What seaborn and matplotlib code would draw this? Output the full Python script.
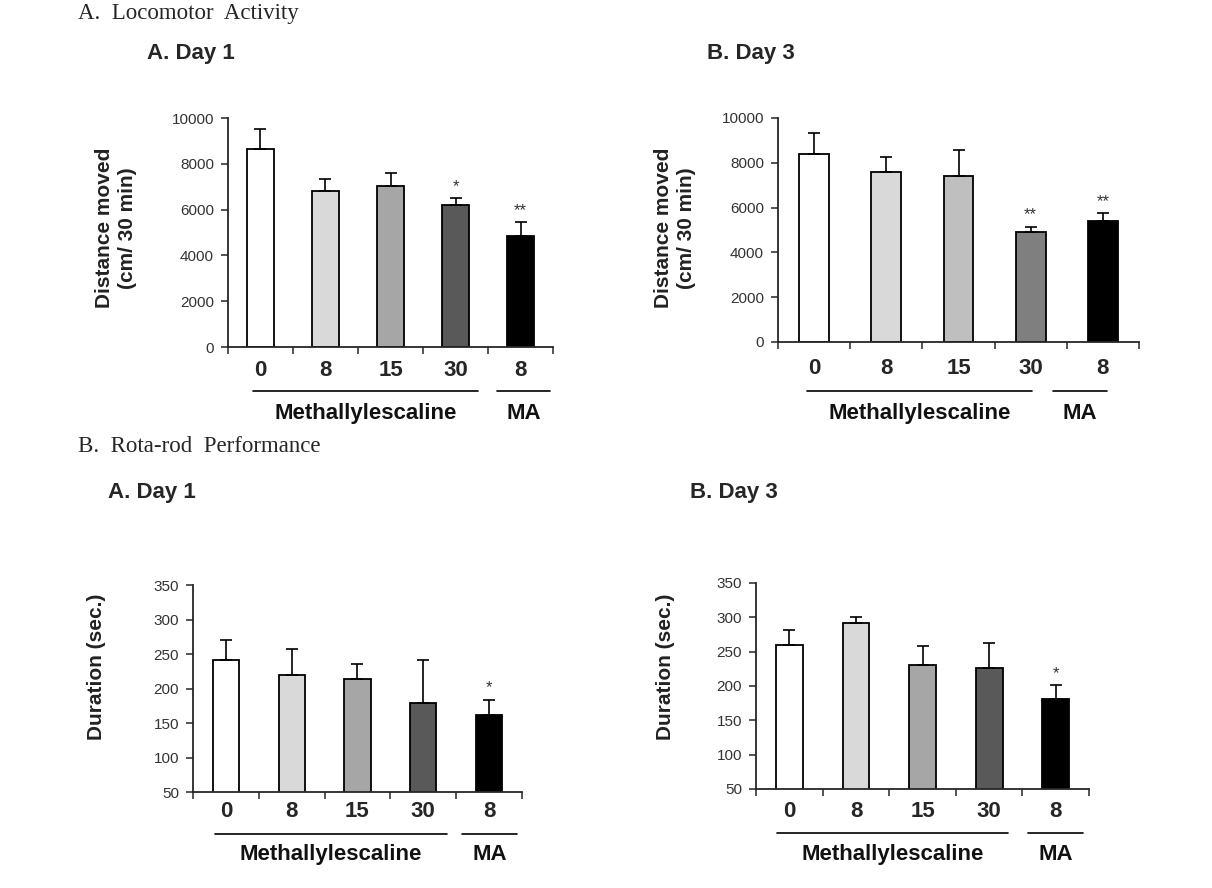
import numpy as np
import pandas as pd
import matplotlib
matplotlib.use("Agg")
import matplotlib.pyplot as plt
import matplotlib.transforms as mtransforms
import seaborn as sns

# doses (mg/kg) under each bar, and the drug groups
dose_labels = ["0", "8", "15", "30", "8"]
group_names = ["Methallylescaline", "MA"]

# locomotor activity, distance moved (cm / 30 min)
loco_day1_mean = [8650, 6820, 7040, 6220, 4830]
loco_day1_sem = [890, 510, 580, 280, 630]
loco_day1_sig = ["", "", "", "*", "**"]

loco_day3_mean = [8400, 7570, 7420, 4910, 5390]
loco_day3_sem = [910, 670, 1130, 240, 360]
loco_day3_sig = ["", "", "", "**", "**"]

# rota-rod, duration (sec.)
rota_day1_mean = [241, 219, 214, 179, 162]
rota_day1_sem = [30, 38, 22, 63, 22]
rota_day1_sig = ["", "", "", "", "*"]

rota_day3_mean = [260, 291, 231, 226, 181]
rota_day3_sem = [21, 10, 27, 37, 20]
rota_day3_sig = ["", "", "", "", "*"]

sns.set_style("ticks")
plt.rcParams["font.family"] = ["Liberation Sans", "DejaVu Sans"]

fig = plt.figure(figsize=(12.12, 8.88), dpi=100)

shades_a = ["white", "#d9d9d9", "#a6a6a6", "#595959", "black"]
shades_b = ["white", "#d9d9d9", "#bfbfbf", "#7f7f7f", "black"]

panels = [
    dict(rect=[0.1881, 0.6092, 0.2682, 0.2579], mean=loco_day1_mean, sem=loco_day1_sem,
         sig=loco_day1_sig, colors=shades_a, width=0.42, ylim=(0, 10000), step=2000,
         ylabel="Distance moved\n(cm/ 30 min)", ylab_xy=(-0.345, 0.52), pad=9,
         spans=[(-0.12, 3.35), (3.64, 4.45)], line_y=-0.192, text_y=-0.29),
    dict(rect=[0.6419, 0.6149, 0.2979, 0.2523], mean=loco_day3_mean, sem=loco_day3_sem,
         sig=loco_day3_sig, colors=shades_b, width=0.41, ylim=(0, 10000), step=2000,
         ylabel="Distance moved\n(cm/ 30 min)", ylab_xy=(-0.285, 0.51), pad=11.5,
         spans=[(-0.1, 3.02), (3.31, 4.06)], line_y=-0.219, text_y=-0.318),
    dict(rect=[0.1592, 0.1081, 0.2715, 0.2331], mean=rota_day1_mean, sem=rota_day1_sem,
         sig=rota_day1_sig, colors=shades_a, width=0.40, ylim=(50, 350), step=50,
         ylabel="Duration (sec.)", ylab_xy=(-0.292, 0.604), pad=6.5,
         spans=[(-0.17, 3.36), (3.59, 4.42)], line_y=-0.203, text_y=-0.30),
    dict(rect=[0.6238, 0.1115, 0.2748, 0.2320], mean=rota_day3_mean, sem=rota_day3_sem,
         sig=rota_day3_sig, colors=shades_a, width=0.40, ylim=(50, 350), step=50,
         ylabel="Duration (sec.)", ylab_xy=(-0.273, 0.592), pad=8.5,
         spans=[(-0.19, 3.28), (3.58, 4.41)], line_y=-0.214, text_y=-0.316),
]

for p in panels:
    ax = fig.add_axes(p["rect"])
    n = len(p["mean"])
    df = pd.DataFrame({"bar": [f"g{i}" for i in range(n)], "value": p["mean"]})
    sns.barplot(data=df, x="bar", y="value", hue="bar", palette=p["colors"],
                width=p["width"], edgecolor="black", linewidth=1.3,
                errorbar=None, legend=False, ax=ax)
    xs = np.arange(n)
    # one-sided (upper) error bars
    ax.errorbar(xs, p["mean"], yerr=[np.zeros(n), p["sem"]], fmt="none",
                ecolor="black", elinewidth=1.2, capsize=4.3, capthick=1.2, zorder=1)
    for i in range(n):
        if p["sig"][i]:
            ax.annotate(p["sig"][i], xy=(i, p["mean"][i] + p["sem"][i]), xytext=(0, 3),
                        textcoords="offset points", ha="center", va="bottom",
                        fontsize=12, color="#333333")

    ax.set_xlim(-0.5, n - 0.5)
    ax.set_ylim(*p["ylim"])
    ax.set_yticks(np.arange(p["ylim"][0], p["ylim"][1] + 1, p["step"]))
    ax.tick_params(axis="y", length=5, width=1.1, pad=5, labelsize=11,
                   labelcolor="#333333", direction="out")
    # ticks at bar boundaries, labels at bar centres
    ax.set_xticks(np.arange(-0.5, n, 1.0))
    ax.set_xticklabels([])
    ax.set_xticks(xs, minor=True)
    ax.set_xticklabels(dose_labels, minor=True, fontsize=16, fontweight="bold")
    ax.tick_params(axis="x", which="major", length=5, width=1.1, direction="out")
    ax.tick_params(axis="x", which="minor", length=0, pad=p["pad"])
    ax.set_xlabel("")
    ax.set_ylabel(p["ylabel"], fontsize=15, fontweight="bold", color="#222222",
                  linespacing=1.3, va="center")
    ax.yaxis.set_label_coords(*p["ylab_xy"])
    sns.despine(ax=ax)
    for s in ["left", "bottom"]:
        ax.spines[s].set_linewidth(1.3)

    trans = mtransforms.blended_transform_factory(ax.transData, ax.transAxes)
    for name, (x0, x1) in zip(group_names, p["spans"]):
        ax.plot([x0, x1], [p["line_y"], p["line_y"]], color="black", lw=1.2,
                transform=trans, clip_on=False)
        ax.text((x0 + x1) / 2, p["text_y"], name, transform=trans, ha="center",
                va="center", fontsize=16, fontweight="bold", color="#111111")

# section headings and panel titles
serif = ["Liberation Serif", "DejaVu Serif"]
fig.text(78 / 1212, 1 - 14 / 888, "A.  Locomotor  Activity", family=serif,
         fontsize=16.5, va="center", ha="left")
fig.text(78 / 1212, 1 - 446 / 888, "B.  Rota-rod  Performance", family=serif,
         fontsize=16.5, va="center", ha="left")
fig.text(147 / 1212, 1 - 53 / 888, "A. Day 1", fontsize=16, fontweight="bold",
         va="center", ha="left")
fig.text(707 / 1212, 1 - 54 / 888, "B. Day 3", fontsize=16, fontweight="bold",
         va="center", ha="left")
fig.text(108 / 1212, 1 - 492 / 888, "A. Day 1", fontsize=16, fontweight="bold",
         va="center", ha="left")
fig.text(690 / 1212, 1 - 492 / 888, "B. Day 3", fontsize=16, fontweight="bold",
         va="center", ha="left")

fig.savefig("out.png", dpi=100)
